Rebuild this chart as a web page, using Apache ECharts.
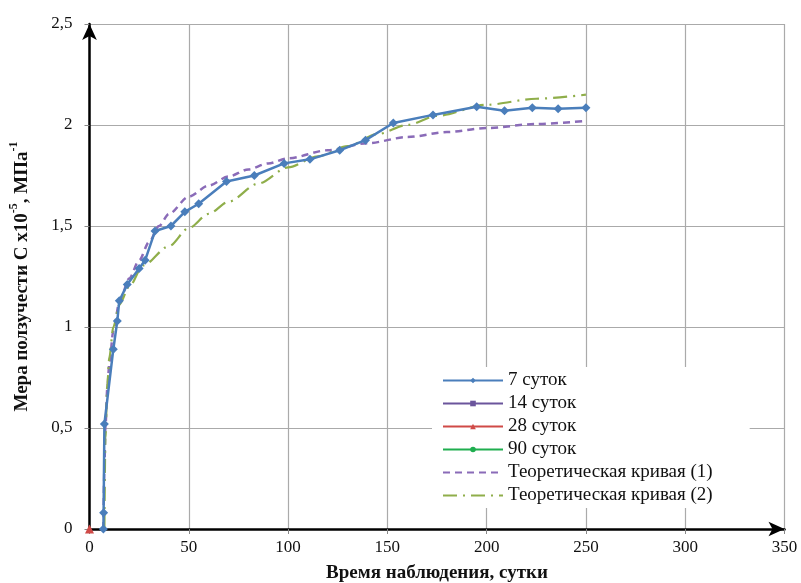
<!DOCTYPE html>
<html>
<head>
<meta charset="utf-8">
<script src="https://cdn.jsdelivr.net/npm/echarts@6/dist/echarts.min.js"></script>
<style>
html,body{margin:0;padding:0;background:#fff;}
#chart{width:801px;height:583px;}
</style>
</head>
<body>
<div id="chart"></div>
<script>
// Series names
const seriesNames = ['7 суток', '14 суток', '28 суток', '90 суток', 'Теоретическая кривая (1)', 'Теоретическая кривая (2)'];

// 7 суток: observation time (days) and creep measure
const days7 = [7, 7.1, 7.5, 12, 14, 15, 19, 25, 28, 33, 41, 48, 55, 69, 83, 98, 111, 126, 139, 153, 173, 195, 209, 223, 236, 250];
const vals7 = [0, 0.08, 0.52, 0.89, 1.03, 1.13, 1.21, 1.29, 1.33, 1.475, 1.50, 1.57, 1.61, 1.72, 1.75, 1.81, 1.83, 1.875, 1.925, 2.01, 2.05, 2.09, 2.07, 2.085, 2.08, 2.085];

// 14, 28, 90 суток
const days14 = [];
const vals14 = [];
const days28 = [0];
const vals28 = [0];
const days90 = [];
const vals90 = [];

// Theoretical curve (1)
const theory1X = [7, 7.5, 8, 9, 10, 12, 15, 20, 25, 30, 35, 40, 50, 60, 70, 80, 90, 100, 120, 140, 160, 180, 200, 225, 250];
const theory1Y = [0, 0.3, 0.5, 0.7, 0.82, 0.98, 1.12, 1.24, 1.33, 1.42, 1.50, 1.56, 1.645, 1.70, 1.745, 1.78, 1.81, 1.835, 1.875, 1.91, 1.94, 1.965, 1.985, 2.005, 2.02];

// Theoretical curve (2)
const theory2X = [7.5, 8, 9, 10, 12, 15, 20, 27, 40, 50, 60, 70, 85, 100, 115, 130, 145, 160, 175, 200, 225, 250];
const theory2Y = [0, 0.45, 0.72, 0.85, 1.0, 1.11, 1.2, 1.305, 1.40, 1.49, 1.56, 1.62, 1.71, 1.79, 1.845, 1.895, 1.955, 2.0, 2.045, 2.10, 2.13, 2.15];

// Axis ticks
const xMin = 0, xMax = 350, xStep = 50;
const yMin = 0, yMax = 2.5, yStep = 0.5;

const pairs = (xs, ys) => xs.map((x, i) => [x, ys[i]]);
const FONT = '"Liberation Serif", "Times New Roman", serif';

const chart = echarts.init(document.getElementById('chart'), null, {renderer: 'canvas'});

const option = {
  backgroundColor: '#ffffff',
  animation: false,
  textStyle: {fontFamily: FONT},
  grid: {left: 89.5, right: 16.5, top: 24, bottom: 54, containLabel: false, outerBoundsMode: 'none'},
  legend: {
    orient: 'vertical',
    left: 432,
    top: 367,
    itemWidth: 60,
    itemHeight: 7,
    itemGap: 4,
    backgroundColor: '#ffffff',
    padding: [4, 37, 3, 10],
    textStyle: {fontFamily: FONT, fontSize: 19, color: '#111'},
    data: [
      {name: seriesNames[0]},
      {name: seriesNames[1]},
      {name: seriesNames[2]},
      {name: seriesNames[3]},
      {name: seriesNames[4], itemStyle: {opacity: 0}},
      {name: seriesNames[5], itemStyle: {opacity: 0}}
    ]
  },
  xAxis: {
    type: 'value',
    min: xMin, max: xMax, interval: xStep,
    name: 'Время наблюдения, сутки',
    nameLocation: 'middle',
    nameGap: 35,
    nameTextStyle: {fontFamily: FONT, fontSize: 19, fontWeight: 'bold', color: '#111'},
    axisLine: {show: true, onZero: false, symbol: ['none', 'arrow'], symbolSize: [11, 16], lineStyle: {color: '#000', width: 2.5}},
    axisTick: {show: true, inside: false, length: 5, lineStyle: {color: '#888', width: 1}},
    axisLabel: {fontFamily: FONT, fontSize: 17, color: '#111', margin: 10},
    splitLine: {show: true, lineStyle: {color: '#aaaaaa', width: 1.2}}
  },
  yAxis: {
    type: 'value',
    min: yMin, max: yMax, interval: yStep,
    name: '{m|Мера ползучести С x10}{s|-5}{m|, МПа}{s|-1}',
    nameLocation: 'middle',
    nameRotate: 90,
    nameGap: 58,
    nameTextStyle: {
      fontFamily: FONT, fontSize: 19, fontWeight: 'bold', color: '#111',
      rich: {
        m: {fontFamily: FONT, fontSize: 19, fontWeight: 'bold', color: '#111', lineHeight: 24, verticalAlign: 'bottom'},
        s: {fontFamily: FONT, fontSize: 12, fontWeight: 'bold', color: '#111', lineHeight: 24, verticalAlign: 'top'}
      }
    },
    axisLine: {show: true, onZero: false, symbol: ['none', 'arrow'], symbolSize: [11, 16], lineStyle: {color: '#000', width: 2.5}},
    axisTick: {show: true, inside: false, length: 5, lineStyle: {color: '#888', width: 1}},
    axisLabel: {fontFamily: FONT, fontSize: 17, color: '#111', margin: 17,
      formatter: v => String(v).replace('.', ',')},
    splitLine: {show: true, lineStyle: {color: '#aaaaaa', width: 1.2}}
  },
  series: [
    {
      name: seriesNames[0], type: 'line', data: pairs(days7, vals7),
      symbol: 'diamond', symbolSize: 9, color: '#4a7ebb', z: 3,
      lineStyle: {color: '#4a7ebb', width: 2.5},
      itemStyle: {color: '#4a7ebb'}
    },
    {
      name: seriesNames[1], type: 'line', data: pairs(days14, vals14),
      symbol: 'rect', symbolSize: 7, color: '#6b559c',
      lineStyle: {color: '#6b559c', width: 2.5}, itemStyle: {color: '#6b559c'}
    },
    {
      name: seriesNames[2], type: 'line', data: pairs(days28, vals28),
      symbol: 'triangle', symbolSize: 9, color: '#d04a47', z: 6,
      lineStyle: {color: '#d04a47', width: 2.5}, itemStyle: {color: '#d04a47'}
    },
    {
      name: seriesNames[3], type: 'line', data: pairs(days90, vals90),
      symbol: 'circle', symbolSize: 6, color: '#1fae4f',
      lineStyle: {color: '#1fae4f', width: 2.5}, itemStyle: {color: '#1fae4f'}
    },
    {
      name: seriesNames[4], type: 'line', data: pairs(theory1X, theory1Y),
      symbol: 'none', smooth: 0.3, smoothMonotone: 'x', color: '#8a6bb8', z: 2,
      lineStyle: {color: '#8a6bb8', width: 2.5, type: [7, 5]}
    },
    {
      name: seriesNames[5], type: 'line', data: pairs(theory2X, theory2Y),
      symbol: 'none', smooth: 0.3, smoothMonotone: 'x', color: '#8fae4a', z: 2,
      lineStyle: {color: '#8fae4a', width: 2.2, type: [14, 6, 2, 6]}
    }
  ]
};
chart.setOption(option);
</script>
</body>
</html>
